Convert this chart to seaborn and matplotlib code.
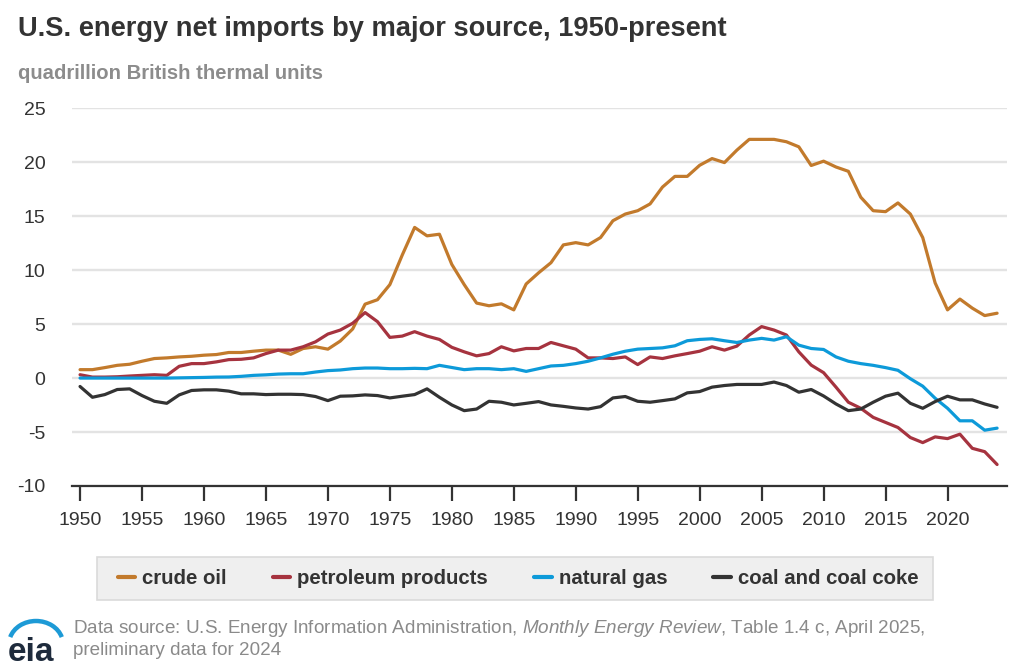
import numpy as np
import pandas as pd
import matplotlib
matplotlib.use("Agg")
import matplotlib.pyplot as plt
from matplotlib.patches import Arc, Rectangle
import seaborn as sns

# net imports, quadrillion Btu, 1950-2024
years = list(range(1950, 2025))

crude_oil = [0.78, 0.78, 0.97, 1.18, 1.28, 1.56, 1.81, 1.87, 1.96, 2.02,
             2.12, 2.18, 2.37, 2.37, 2.49, 2.59, 2.59, 2.20, 2.74, 2.90,
             2.68, 3.43, 4.55, 6.85, 7.26, 8.66, 11.40, 13.96, 13.18, 13.33,
             10.53, 8.66, 6.95, 6.70, 6.88, 6.32, 8.72, 9.75, 10.69, 12.34,
             12.55, 12.34, 13.02, 14.58, 15.20, 15.51, 16.14, 17.70, 18.69, 18.69,
             19.72, 20.34, 19.97, 21.12, 22.12, 22.12, 22.12, 21.90, 21.43, 19.70,
             20.10, 19.56, 19.16, 16.76, 15.51, 15.42, 16.23, 15.20, 13.02, 8.82,
             6.32, 7.32, 6.48, 5.79, 6.01]

petroleum_products = [0.31, 0.09, 0.09, 0.12, 0.19, 0.25, 0.31, 0.25, 1.09, 1.34,
                      1.34, 1.50, 1.71, 1.74, 1.87, 2.27, 2.59, 2.59, 2.90, 3.36,
                      4.08, 4.45, 5.08, 6.07, 5.23, 3.77, 3.89, 4.30, 3.89, 3.58,
                      2.85, 2.43, 2.06, 2.27, 2.90, 2.52, 2.74, 2.74, 3.30, 2.99,
                      2.68, 1.87, 1.87, 1.81, 1.96, 1.25, 1.96, 1.81, 2.06, 2.27,
                      2.49, 2.90, 2.59, 2.96, 3.99, 4.77, 4.45, 3.99, 2.43, 1.20,
                      0.50, -0.84, -2.24, -2.80, -3.64, -4.11, -4.58, -5.51, -5.98, -5.45,
                      -5.61, -5.20, -6.51, -6.82, -8.01]

natural_gas = [0.0, 0.0, 0.0, 0.0, 0.0, 0.0, 0.0, 0.0, 0.02, 0.04,
               0.06, 0.09, 0.10, 0.16, 0.25, 0.30, 0.37, 0.40, 0.40, 0.56,
               0.69, 0.75, 0.87, 0.93, 0.93, 0.87, 0.87, 0.90, 0.87, 1.18,
               0.98, 0.78, 0.87, 0.87, 0.78, 0.87, 0.62, 0.87, 1.12, 1.18,
               1.34, 1.56, 1.87, 2.21, 2.49, 2.68, 2.74, 2.80, 2.99, 3.46,
               3.58, 3.64, 3.46, 3.30, 3.52, 3.68, 3.52, 3.83, 3.05, 2.74,
               2.65, 1.96, 1.56, 1.34, 1.18, 0.97, 0.72, -0.06, -0.75, -1.87,
               -2.80, -3.96, -3.96, -4.83, -4.64]

coal = [-0.78, -1.78, -1.53, -1.06, -1.00, -1.62, -2.15, -2.34, -1.56, -1.15,
        -1.09, -1.09, -1.21, -1.46, -1.46, -1.53, -1.50, -1.50, -1.53, -1.71,
        -2.09, -1.68, -1.65, -1.56, -1.62, -1.84, -1.68, -1.53, -1.00, -1.78,
        -2.49, -3.02, -2.87, -2.15, -2.24, -2.49, -2.34, -2.18, -2.49, -2.62,
        -2.77, -2.87, -2.65, -1.84, -1.71, -2.15, -2.24, -2.09, -1.93, -1.37,
        -1.25, -0.84, -0.69, -0.59, -0.59, -0.59, -0.37, -0.69, -1.31, -1.06,
        -1.66, -2.40, -3.02, -2.87, -2.24, -1.68, -1.40, -2.34, -2.80, -2.18,
        -1.68, -2.02, -2.02, -2.40, -2.71]

sources = ["crude oil", "petroleum products", "natural gas", "coal and coal coke"]
colors = ["#c27a2c", "#a6333f", "#0d9ad9", "#333333"]

df = pd.DataFrame({
    "year": years * 4,
    "value": crude_oil + petroleum_products + natural_gas + coal,
    "source": np.repeat(sources, len(years)),
})

sns.set_style("white")
plt.rcParams["font.family"] = ["Liberation Sans", "DejaVu Sans"]
plt.rcParams["axes.unicode_minus"] = False
plt.rcParams["mathtext.fontset"] = "custom"
plt.rcParams["mathtext.rm"] = "Liberation Sans"
plt.rcParams["mathtext.it"] = "Liberation Sans:italic"

fig = plt.figure(figsize=(10.24, 6.66), dpi=100)
ax = fig.add_axes([0.0703, 0.2703, 0.9131, 0.5671])

sns.lineplot(data=df, x="year", y="value", hue="source", hue_order=sources,
             palette=dict(zip(sources, colors)), linewidth=2.3, ax=ax,
             legend=False)

ax.set_xlim(1949.35, 2024.8)
ax.set_ylim(-10, 25)
ax.set_xticks(range(1950, 2021, 5))
ax.set_yticks(range(-10, 26, 5))
ax.set_xlabel("")
ax.set_ylabel("")
ax.grid(axis="y", color="#e3e3e3", linewidth=1.7)
ax.set_axisbelow(True)
for s in ["top", "right", "left"]:
    ax.spines[s].set_visible(False)
ax.spines["bottom"].set_color("#333333")
ax.spines["bottom"].set_linewidth(1.6)
ax.tick_params(axis="x", length=11, width=1.6, color="#333333", labelsize=14,
               labelcolor="#333333", pad=7.5, direction="out", bottom=True)
ax.tick_params(axis="y", length=0, labelsize=14, labelcolor="#333333", pad=19)

fig.text(0.018, 0.956, "U.S. energy net imports by major source, 1950-present",
         fontsize=19.6, fontweight="bold", color="#333333", va="center")
fig.text(0.018, 0.889, "quadrillion British thermal units",
         fontsize=14.6, fontweight="bold", color="#8c8c8c", va="center")

# legend box drawn separately so the side padding can be wider than the top
fig.patches.append(Rectangle((97 / 1024, 1 - 600 / 666), 836 / 1024, 43 / 666,
                             transform=fig.transFigure, facecolor="#efefef",
                             edgecolor="#dadada", linewidth=1.2, zorder=0))
handles = [plt.Line2D([], [], color=c, linewidth=3) for c in colors]
leg = fig.legend(handles, sources, loc="center", bbox_to_anchor=(0.5059, 0.131),
                 ncol=4, frameon=False, fontsize=14.7, handlelength=0.85,
                 handletextpad=0.35, columnspacing=2.26, borderpad=0.3,
                 borderaxespad=0)
for t in leg.get_texts():
    t.set_fontweight("bold")
    t.set_color("#333333")

fig.text(0.0713, 0.041,
         "Data source: U.S. Energy Information Administration, $\\it{Monthly\\ Energy\\ Review}$, "
         "Table 1.4 c, April 2025,\npreliminary data for 2024",
         fontsize=13.6, color="#8a8a8a", va="center", linespacing=1.25)

# eia mark, drawn in pixel units of the bottom-left corner
logo = fig.add_axes([0, 0, 120 / 1024, 66 / 666])
logo.axis("off")
logo.set_xlim(0, 120)
logo.set_ylim(66, 0)
logo.text(31, 61, "eia", fontsize=24, color="#1e2b3c", ha="center",
          va="baseline", fontweight="bold")
logo.add_patch(Arc((36, 44), 54, 46, theta1=195, theta2=345,
                   color="#1d9ad6", linewidth=3.2))

fig.savefig("out.png", dpi=100)
